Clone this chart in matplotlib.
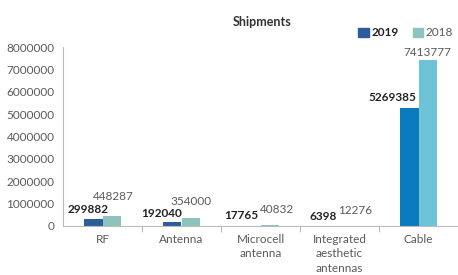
import matplotlib.pyplot as plt
import numpy as np

categories = ['RF', 'Antenna', 'Microcell\nantenna', 'Integrated\naesthetic\nantennas', 'Cable']
shipments_2019 = [299882, 192040, 17765, 6398, 5269385]
shipments_2018 = [448287, 354000, 40832, 12276, 7413777]
y_ticks = [0, 1000000, 2000000, 3000000, 4000000, 5000000, 6000000, 7000000, 8000000]

# label offsets in points (dx, dy), hand placed like the source
offsets_2019 = [(-4, 3), (-8, 2), (-7, 3), (-5, 3), (-12, 3.5)]
offsets_2018 = [(1.5, 10), (0.5, 8), (5, 7), (4.5, 7), (0, 1.5)]

plt.rcParams['font.family'] = ['Lato', 'DejaVu Sans']

c2019 = '#2b5c9c'
c2018 = '#8cc3bd'
colors_2019 = [c2019] * 4 + ['#0a7bbf']
colors_2018 = [c2018] * 4 + ['#6fc3d6']
gray = '#5a5a5a'

fig = plt.figure(figsize=(4.58, 2.75), dpi=100)
ax = fig.add_axes([63 / 458, 1 - 226 / 275, 1 - 63 / 458, (226 - 47) / 275])

x = np.arange(len(categories))
w = 0.23
bars19 = ax.bar(x - w / 2, shipments_2019, w, color=colors_2019, label='2019')
bars18 = ax.bar(x + w / 2, shipments_2018, w, color=colors_2018, label='2018')

for b, v, (dx, dy) in zip(bars19, shipments_2019, offsets_2019):
    ax.annotate(str(v), (b.get_x() + b.get_width() / 2, v), xytext=(dx, dy),
                textcoords='offset points', ha='center', va='bottom',
                fontsize=8.5, fontweight='bold', color='#222222')
for b, v, (dx, dy) in zip(bars18, shipments_2018, offsets_2018):
    ax.annotate(str(v), (b.get_x() + b.get_width() / 2, v), xytext=(dx, dy),
                textcoords='offset points', ha='center', va='bottom',
                fontsize=8.5, color=gray)

ax.set_xlim(-0.5, len(categories) - 0.5)
ax.set_ylim(0, 8000000)
ax.set_yticks(y_ticks)
ax.set_yticklabels([str(t) for t in y_ticks])
ax.set_xticks(x)
ax.set_xticklabels(categories, linespacing=1.35)
ax.set_xticks(np.arange(0.5, len(categories) - 1, 1), minor=True)
ax.tick_params(axis='x', which='major', length=0, pad=6, labelsize=8.5, labelcolor=gray)
ax.tick_params(axis='x', which='minor', length=4, color='#aaaaaa')
ax.tick_params(axis='y', length=0, pad=6, labelsize=8.5, labelcolor=gray)

for s in ['top', 'right']:
    ax.spines[s].set_visible(False)
ax.spines['left'].set_color('#bbbbbb')
ax.spines['bottom'].set_color('#bbbbbb')

fig.text(262 / 458, 1 - 22 / 275, 'Shipments', ha='center', va='center',
         fontsize=9, fontweight='bold', color='#333333')

handles = [plt.Rectangle((0, 0), 1, 1, color=c2019), plt.Rectangle((0, 0), 1, 1, color=c2018)]
leg = fig.legend(handles, ['2019', '2018'], loc='center right', ncol=2,
                 bbox_to_anchor=(1.005, 1 - 33 / 275), frameon=False, fontsize=8.5,
                 handlelength=0.9, handleheight=0.9, handletextpad=0.2, columnspacing=1.2,
                 borderpad=0.1)
leg.get_texts()[0].set_fontweight('bold')
leg.get_texts()[0].set_color('#222222')
leg.get_texts()[1].set_color(gray)

fig.savefig('out.png', dpi=100)
